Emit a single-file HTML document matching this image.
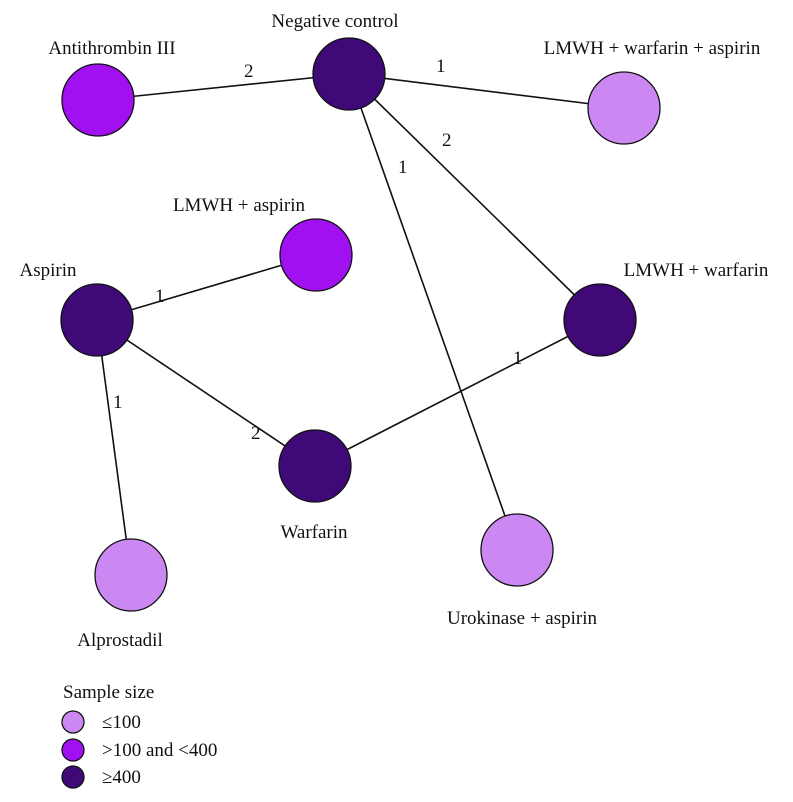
<!DOCTYPE html>
<html><head><meta charset="utf-8"><style>body{margin:0;background:#fff}svg{display:block}text{font-family:"Liberation Serif",serif;font-size:19px;fill:#111}</style></head><body>
<svg width="793" height="802" viewBox="0 0 793 802">
<g stroke="#111" stroke-width="1.6">
<line x1="98" y1="100" x2="349" y2="74"/>
<line x1="349" y1="74" x2="624" y2="108"/>
<line x1="349" y1="74" x2="600" y2="320"/>
<line x1="349" y1="74" x2="517" y2="550"/>
<line x1="97" y1="320" x2="316" y2="255"/>
<line x1="97" y1="320" x2="315" y2="466"/>
<line x1="97" y1="320" x2="131" y2="575"/>
<line x1="315" y1="466" x2="600" y2="320"/>
</g>
<g stroke="#111" stroke-width="1.3">
<circle cx="349" cy="74" r="36" fill="#3f0a78"/>
<circle cx="98" cy="100" r="36" fill="#a010f0"/>
<circle cx="624" cy="108" r="36" fill="#cc88f2"/>
<circle cx="316" cy="255" r="36" fill="#a010f0"/>
<circle cx="97" cy="320" r="36" fill="#3f0a78"/>
<circle cx="600" cy="320" r="36" fill="#3f0a78"/>
<circle cx="315" cy="466" r="36" fill="#3f0a78"/>
<circle cx="131" cy="575" r="36" fill="#cc88f2"/>
<circle cx="517" cy="550" r="36" fill="#cc88f2"/>
<circle cx="73" cy="722" r="11" fill="#cc88f2"/>
<circle cx="73" cy="750" r="11" fill="#a010f0"/>
<circle cx="73" cy="777" r="11" fill="#3f0a78"/>
</g>
<text x="335" y="27" text-anchor="middle">Negative control</text>
<text x="112" y="54" text-anchor="middle">Antithrombin III</text>
<text x="652" y="54" text-anchor="middle">LMWH + warfarin + aspirin</text>
<text x="239" y="211" text-anchor="middle">LMWH + aspirin</text>
<text x="48" y="276" text-anchor="middle">Aspirin</text>
<text x="696" y="276" text-anchor="middle">LMWH + warfarin</text>
<text x="314" y="538" text-anchor="middle">Warfarin</text>
<text x="120" y="646" text-anchor="middle">Alprostadil</text>
<text x="522" y="624" text-anchor="middle">Urokinase + aspirin</text>
<text x="244" y="77">2</text>
<text x="436" y="72">1</text>
<text x="442" y="146">2</text>
<text x="398" y="173">1</text>
<text x="155" y="302">1</text>
<text x="251" y="439">2</text>
<text x="113" y="408">1</text>
<text x="513" y="364">1</text>
<text x="63" y="698">Sample size</text>
<text x="102" y="728">≤100</text>
<text x="102" y="756">&gt;100 and &lt;400</text>
<text x="102" y="783">≥400</text>
</svg>
</body></html>
